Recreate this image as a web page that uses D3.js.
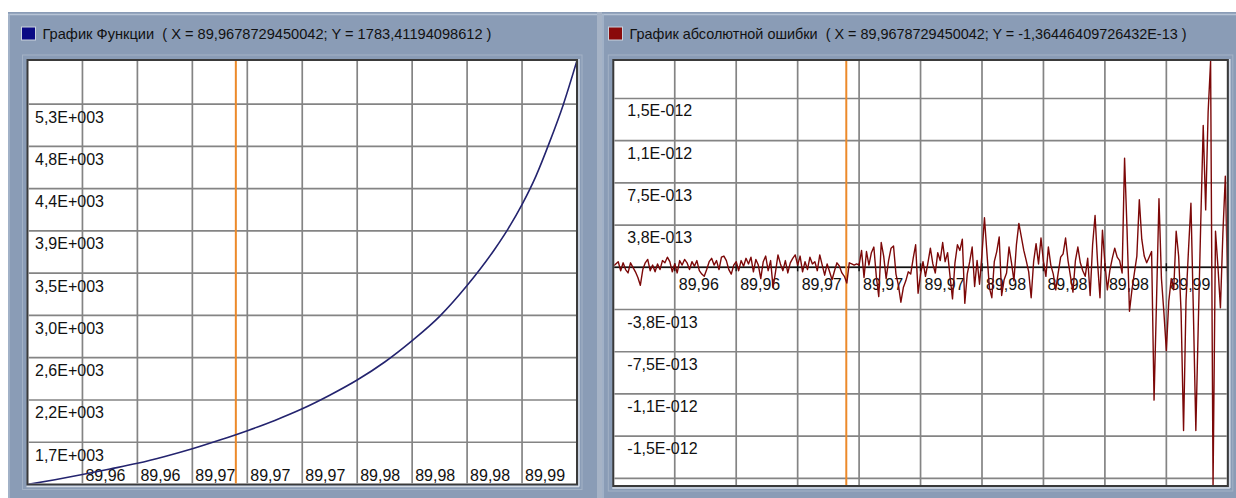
<!DOCTYPE html>
<html><head><meta charset="utf-8">
<script src="https://cdn.jsdelivr.net/npm/d3@7"></script>
<style>html,body{margin:0;padding:0;background:#fff;overflow:hidden}
text{font-family:"Liberation Sans Narrow","Arial Narrow","Liberation Sans",Arial,sans-serif;fill:#111}
.title{white-space:pre}</style>
</head><body>
<svg id="c" width="1236" height="498"></svg>
<script>
// ---------------- data ----------------
const xDomain = [89.95436, 89.99];
const xTickValues = [89.957924, 89.961488, 89.965052, 89.968616, 89.97218, 89.975744, 89.979308, 89.982872, 89.986436];
const xTickLabels = ["89,96","89,96","89,97","89,97","89,97","89,98","89,98","89,98","89,99"];

const funcX = [89.95436, 89.95614, 89.95792, 89.95971, 89.96149, 89.96327, 89.96505, 89.96683,
  89.96862, 89.9704, 89.97218, 89.97396, 89.97574, 89.97753, 89.97931, 89.98109, 89.98287,
  89.98465, 89.98554, 89.98644, 89.98733, 89.98822, 89.98911, 89.99];
const funcY = [1265, 1315, 1370, 1428, 1488, 1560, 1641, 1733, 1832, 1940, 2062, 2205, 2365,
  2555, 2780, 3036, 3360, 3740, 3960, 4215, 4510, 4870, 5265, 5730];
const funcYDomain = [1265, 5735];
const funcYTicks = [1710, 2155, 2600, 3045, 3490, 3935, 4380, 4825, 5270];
const funcYTickLabels = ["1,7E+003","2,2E+003","2,6E+003","3,0E+003","3,5E+003","3,9E+003","4,4E+003","4,8E+003","5,3E+003"];

// absolute error, sampled on an even X step, values in units of 1E-13
const errXStart = 89.95436;
const errXStep = 0.00014256;
const errValuesE13 = [
  0.1,0.3,0.5,-0.3,0.4,-0.2,-0.5,0.4,0.0,-0.4,
  -0.9,-1.6,-0.2,0.4,0.7,-0.3,0.2,-0.4,0.3,-0.2,
  0.6,0.4,0.9,0.5,-0.4,0.3,-0.5,0.6,0.2,0.7,
  0.4,-0.2,0.5,0.1,0.6,-0.3,-0.6,-0.8,-0.2,0.5,
  0.8,0.2,0.6,-0.2,0.9,1.0,0.6,-0.2,-0.6,0.2,
  0.5,-0.3,0.6,0.1,0.8,0.3,0.9,-0.4,0.7,0.2,
  -1.0,0.5,1.0,-0.3,0.6,-1.8,-0.4,1.1,0.3,-0.3,
  0.6,-0.5,0.4,0.8,1.1,0.2,1.0,-0.4,0.5,-0.2,
  0.9,0.3,0.5,-0.3,1.1,0.2,-0.7,0.3,-0.4,-1.1,
  -0.3,0.4,0.1,-0.5,-0.8,-1.4,0.4,0.3,0.2,0.3,
  0.2,1.5,-0.9,1.4,0.2,1.3,1.8,-0.8,-2.6,2.2,
  1.0,-1.0,0.6,1.7,1.9,-0.6,-1.6,-3.1,-1.8,-1.2,
  -0.4,-0.6,0.8,2.0,-2.3,-0.6,0.5,-0.8,0.4,1.7,
  0.3,-0.5,1.3,0.6,2.2,0.5,1.3,-0.8,-2.8,0.4,
  2.0,1.5,2.5,-3.2,-0.6,0.5,1.8,-1.7,0.6,-1.5,
  1.2,4.4,1.3,-1.8,-2.7,0.5,1.4,2.7,-2.5,-1.1,
  -0.5,1.8,0.4,-1.2,2.0,3.9,2.7,1.5,0.6,-0.4,
  -2.7,0.5,2.1,0.3,2.6,0.5,-0.8,1.8,0.2,-0.6,
  -2.0,-0.5,0.9,1.2,2.6,0.6,-0.8,-2.2,0.6,1.8,
  0.4,-0.3,-0.8,0.8,-2.5,2.0,4.6,0.5,-2.7,3.3,
  0.4,-2.0,-0.3,0.8,1.7,0.9,0.6,-0.5,9.7,3.4,
  -3.9,-2.0,-0.5,1.0,6.0,2.5,1.0,0.4,0.9,1.4,
  -11.8,-3.0,6.1,-1.0,-4.0,-7.4,-3.0,-1.0,-2.0,3.2,
  1.0,-4.0,-14.5,-3.0,1.5,5.7,-4.0,-14.5,-5.0,4.0,
  12.6,5.1,13.8,18.3,-19.4,3.2,0.0,-3.6,3.0,8.1,
  -2.0
];
const errYDomain = [-19.43e-13, 18.42e-13];
const errYTicks = [-18.75e-13, -15e-13, -11.25e-13, -7.5e-13, -3.75e-13, 0, 3.75e-13, 7.5e-13, 11.25e-13, 15e-13];
const errYTickLabels = ["", "-1,5E-012", "-1,1E-012", "-7,5E-013", "-3,8E-013", "", "3,8E-013", "7,5E-013", "1,1E-012", "1,5E-012"];

const cursorX = 89.9678729450042;
const funcTitle = "График Функции  ( X = 89,9678729450042; Y = 1783,41194098612 )";
const errTitle = "График абсолютной ошибки  ( X = 89,9678729450042; Y = -1,36446409726432E-13 )";

// ---------------- drawing ----------------
const svg = d3.select("#c");
const PANEL = "#8a9cb6";
const GRID = "#848484";
const FONT = 16;

svg.append("rect").attr("x",0).attr("y",0).attr("width",1236).attr("height",498).attr("fill","#fff");
svg.append("rect").attr("x",597).attr("y",12).attr("width",5).attr("height",486).attr("fill","#a6b3c6");
function panel(x0, x1){
  svg.append("rect").attr("x",x0).attr("y",12).attr("width",x1-x0).attr("height",486).attr("fill",PANEL);
  svg.append("line").attr("x1",x0).attr("x2",x1).attr("y1",14.5).attr("y2",14.5).attr("stroke","#b7c4d6").attr("stroke-width",1.5);
  svg.append("line").attr("x1",x0+1).attr("x2",x0+1).attr("y1",14).attr("y2",498).attr("stroke","#a9b8cc").attr("stroke-width",1.5);
}
panel(8, 597);
panel(602, 1236);

function chart(o){
  const x = d3.scaleLinear().domain(xDomain).range([o.left, o.right]);
  const y = d3.scaleLinear().domain(o.yDomain).range([o.bottom, o.top]);
  const g = svg.append("g");
  g.append("rect").attr("x",o.left-5).attr("y",o.top-5).attr("width",o.right-o.left+10).attr("height",o.bottom-o.top+10)
    .attr("fill","none").attr("stroke","#a3b2c6").attr("stroke-width",1);
  g.append("rect").attr("x",o.left).attr("y",o.top).attr("width",o.right-o.left).attr("height",o.bottom-o.top)
    .attr("fill","#fff").attr("stroke","#3a3a3a").attr("stroke-width",2);
  g.append("line").attr("x1",o.left-1).attr("x2",o.right+2).attr("y1",o.bottom+2).attr("y2",o.bottom+2).attr("stroke","#d5dce6").attr("stroke-width",1.5);
  g.append("line").attr("x1",o.right+2).attr("x2",o.right+2).attr("y1",o.top-1).attr("y2",o.bottom+2).attr("stroke","#d5dce6").attr("stroke-width",1.5);

  const clipId = "clip" + o.id;
  svg.append("clipPath").attr("id",clipId).append("rect")
    .attr("x",o.left+1).attr("y",o.top+1).attr("width",o.right-o.left-2).attr("height",o.bottom-o.top-2);
  const inner = g.append("g").attr("clip-path",`url(#${clipId})`);

  inner.selectAll(".vg").data(xTickValues).join("line")
    .attr("x1",d=>x(d)).attr("x2",d=>x(d)).attr("y1",o.top).attr("y2",o.bottom)
    .attr("stroke",GRID).attr("stroke-width",1.7);
  inner.selectAll(".hg").data(o.yTicks).join("line")
    .attr("x1",o.left).attr("x2",o.right).attr("y1",d=>y(d)).attr("y2",d=>y(d))
    .attr("stroke",GRID).attr("stroke-width",1.7);

  if (o.zeroAxis) {
    inner.append("line").attr("x1",o.left).attr("x2",o.right).attr("y1",y(0)).attr("y2",y(0))
      .attr("stroke","#111").attr("stroke-width",1.6);
    inner.selectAll(".tk").data(xTickValues).join("line")
      .attr("x1",d=>x(d)).attr("x2",d=>x(d)).attr("y1",y(0)-4).attr("y2",y(0)+4)
      .attr("stroke","#111").attr("stroke-width",1.4);
  }

  inner.selectAll(".yl").data(o.yTicks.map((d,i)=>({v:d,t:o.yLabels[i]})).filter(d=>d.t)).join("text")
    .attr("x",o.yLabelX).attr("y",d=>y(d.v)+o.yLabelDy)
    .attr("font-size",FONT).text(d=>d.t);
  inner.selectAll(".xl").data(xTickValues).join("text")
    .attr("x",d=>x(d)+o.xLabelDx).attr("y",o.xLabelY)
    .attr("font-size",FONT).text((d,i)=>xTickLabels[i]);

  inner.append("line").attr("x1",x(cursorX)).attr("x2",x(cursorX)).attr("y1",o.top).attr("y2",o.bottom)
    .attr("stroke","#ec8a2a").attr("stroke-width",2);

  const line = d3.line().x(d=>x(d[0])).y(d=>y(d[1])).curve(o.curve);
  inner.append("path").datum(o.points).attr("d",line).attr("fill","none")
    .attr("stroke",o.color).attr("stroke-width",o.width).attr("stroke-linejoin","round");

  svg.append("rect").attr("x",o.sqX).attr("y",27).attr("width",14).attr("height",13)
    .attr("fill",o.sqColor).attr("stroke","#c9d2de").attr("stroke-width",1);
  svg.append("text").attr("class","title").attr("x",o.sqX+21).attr("y",39).attr("font-size",15)
    .attr("textLength",o.titleLen).attr("lengthAdjust","spacingAndGlyphs").text(o.title);
}

chart({
  id:"f", left:27.5, right:577, top:60, bottom:484.5,
  yDomain:funcYDomain, yTicks:funcYTicks, yLabels:funcYTickLabels,
  yLabelX:35, yLabelDy:18.5, xLabelDx:3, xLabelY:480.5,
  points:funcX.map((v,i)=>[v,funcY[i]]), color:"#24246f", width:1.6, curve:d3.curveMonotoneX,
  sqX:21.5, sqColor:"#0a0a84", title:funcTitle, titleLen:449, zeroAxis:false
});
chart({
  id:"e", left:613.3, right:1227.8, top:60, bottom:486,
  yDomain:errYDomain, yTicks:errYTicks, yLabels:errYTickLabels,
  yLabelX:627.3, yLabelDy:18, xLabelDx:4, xLabelY:290,
  points:errValuesE13.map((v,i)=>[errXStart + i*errXStep, v*1e-13]), color:"#7c0808", width:1.4, curve:d3.curveLinear,
  sqX:608.5, sqColor:"#8a0a0a", title:errTitle, titleLen:557, zeroAxis:true
});
</script>
</body></html>
